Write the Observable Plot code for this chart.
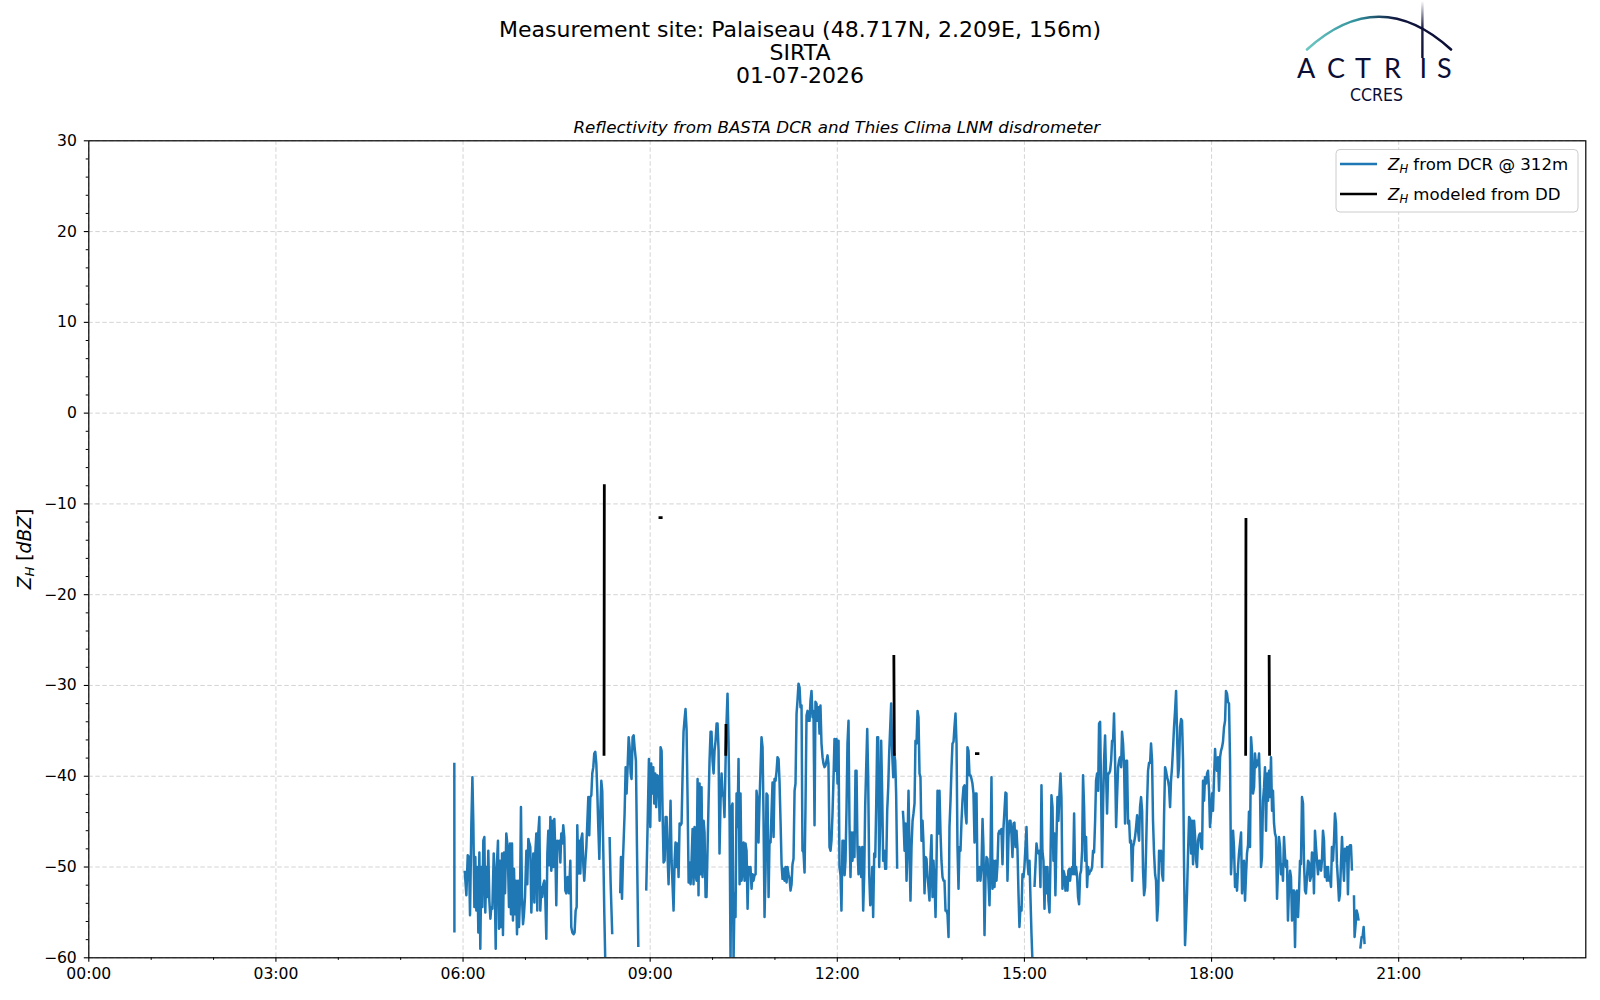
<!DOCTYPE html>
<html>
<head>
<meta charset="utf-8">
<script src="https://cdn.jsdelivr.net/npm/d3@7"></script>
<script src="https://cdn.jsdelivr.net/npm/@observablehq/plot@0.6"></script>
<style>
  html, body { margin: 0; padding: 0; background: #fff; overflow: hidden; }
  #wrap { position: relative; width: 1600px; height: 1000px; }
  #wrap > svg.overlay { position: absolute; left: 0; top: 0; pointer-events: none; }
  #chart { position: absolute; left: 0; top: 0; }
</style>
</head>
<body>
<div id="wrap"><div id="chart"></div></div>
<script>
// ---------- text ----------
const titleLines = ["Measurement site: Palaiseau (48.717N, 2.209E, 156m)", "SIRTA", "01-07-2026"];
const subtitle = "Reflectivity from BASTA DCR and Thies Clima LNM disdrometer";
const legendLabels = [" from DCR @ 312m", " modeled from DD"];

// ---------- ticks (minutes of day / dBZ) ----------
const xMajorTicks = [0, 180, 360, 540, 720, 900, 1080, 1260];
const xMinorTicks = [60, 120, 240, 300, 420, 480, 600, 660, 780, 840, 960, 1020, 1140, 1200, 1320, 1380];
const xTickLabels = ["00:00", "03:00", "06:00", "09:00", "12:00", "15:00", "18:00", "21:00"];
const yMajorTicks = [-60, -50, -40, -30, -20, -10, 0, 10, 20, 30];
const yMinorTicks = [-58,-56,-54,-52,-48,-46,-44,-42,-38,-36,-34,-32,-28,-26,-24,-22,-18,-16,-14,-12,-8,-6,-4,-2,2,4,6,8,12,14,16,18,22,24,26,28];

// ---------- data: [minute of day, Z_H dBZ], null = gap ----------
const dcrSeries = [
[351.6,-38.5],[351.7,-57.2],[356,null],
[361.6,-50.4],[363.2,-53.1],[364.5,-48.7],[365.7,-48.9],[366.7,-55.3],[368.0,-45.2],[369.0,-40.1],[369.9,-45.2],[370.9,-54.4],[371.8,-48.9],[372.8,-54.8],[373.8,-50.0],[374.7,-57.2],[375.7,-48.4],[376.6,-59.0],[377.6,-50.0],[378.6,-54.4],[379.5,-47.1],[380.5,-46.7],[381.4,-55.0],[382.4,-50.0],[383.4,-53.3],[384.3,-48.2],[385.3,-53.7],[386.3,-55.7],[387.2,-54.4],[388.2,-54.6],[389.5,-48.5],[390.4,-51.1],[391.4,-59.0],[392.3,-50.4],[393.6,-47.1],[394.6,-56.8],[395.5,-49.3],[396.5,-56.6],[397.5,-48.5],[398.4,-57.5],[399.4,-48.4],[400.4,-52.9],[401.6,-46.3],[402.9,-47.8],[404.2,-54.4],[405.2,-47.4],[406.1,-55.2],[407.1,-47.4],[408.0,-55.9],[409.0,-50.2],[410.0,-55.2],[410.9,-51.5],[411.9,-57.4],[412.9,-51.5],[413.8,-56.6],[414.8,-53.3],[415.7,-43.4],[416.7,-53.3],[417.7,-56.3],[418.6,-55.2],[419.6,-53.3],[420.9,-48.2],[421.8,-51.9],[422.8,-46.9],[423.8,-47.4],[424.7,-47.8],[425.7,-55.0],[426.6,-51.5],[427.6,-48.5],[428.6,-53.9],[429.5,-48.5],[430.5,-46.3],[431.4,-54.8],[432.4,-46.2],[433.4,-44.5],[434.3,-54.8],[435.3,-52.2],[436.3,-53.3],[437.2,-51.9],[438.2,-51.5],[439.1,-53.3],[440.1,-57.9],[441.1,-48.5],[442.0,-46.0],[443.0,-49.8],[444.0,-44.5],[444.9,-50.4],[445.9,-44.9],[446.8,-50.0],[447.8,-44.7],[448.8,-48.5],[449.7,-54.2],[450.7,-47.1],[451.6,-47.4],[452.6,-47.1],[453.6,-49.5],[454.5,-46.3],[455.5,-47.4],[456.4,-45.4],[457.4,-46.7],[458.4,-52.6],[459.3,-52.9],[460.6,-51.1],[461.9,-52.9],[463.2,-49.3],[464.1,-56.6],[465.1,-57.2],[466.4,-57.4],[467.3,-57.2],[468.3,-54.8],[469.3,-54.4],[469.9,-45.4],[470.9,-50.7],[471.8,-47.1],[472.8,-50.7],[473.7,-46.9],[474.7,-46.3],[475.7,-49.8],[476.6,-51.5],[477.6,-49.5],[478.6,-47.8],[479.5,-45.2],[480.5,-42.3],[481.4,-46.5],[482.4,-42.3],[483.4,-42.1],[484.3,-39.7],[485.3,-39.0],[486.2,-37.5],[487.2,-37.3],[488.2,-38.6],[489.1,-41.6],[490.1,-45.6],[491.1,-49.1],[492.0,-44.1],[493.0,-40.5],[493.9,-41.6],[494.9,-48.2],[495.9,-55.2],[496.8,-60.3],[498,null],
[501.0,-46.7],[501.9,-51.5],[502.9,-55.2],[503.5,-57.4],[506,null],
[511.2,-52.9],[511.9,-48.9],[512.9,-53.5],[513.8,-49.3],[515.4,-44.1],[516.4,-39.0],[517.3,-41.9],[518.3,-39.0],[519.3,-35.7],[520.2,-36.8],[521.2,-39.7],[522.1,-40.3],[523.1,-35.7],[524.1,-35.5],[525.0,-36.8],[526.3,-38.3],[527.3,-47.8],[528.6,-58.8],[532,null],
[536.2,-52.6],[537.5,-45.6],[538.8,-38.1],[540.1,-45.6],[541.0,-38.6],[542.0,-41.9],[543.0,-39.0],[543.9,-43.0],[544.9,-39.7],[545.8,-43.4],[546.8,-39.9],[548.1,-40.1],[549.1,-44.9],[550.0,-36.8],[551.0,-37.2],[552.0,-44.5],[552.9,-49.5],[553.9,-49.3],[554.8,-44.5],[555.8,-44.5],[556.7,-48.6],[557.7,-51.9],[558.7,-47.4],[559.6,-42.7],[560.6,-49.3],[561.6,-52.2],[562.5,-54.8],[563.5,-49.3],[564.4,-47.3],[565.4,-50.0],[566.4,-47.4],[567.3,-51.1],[568.3,-45.2],[569.2,-45.4],[570.2,-45.2],[571.2,-39.7],[572.1,-35.1],[573.1,-33.7],[574.0,-32.6],[575.0,-34.8],[576.0,-42.7],[577.0,-51.7],[577.9,-49.5],[578.9,-51.9],[579.8,-49.3],[580.8,-45.8],[581.7,-51.9],[582.7,-45.6],[583.7,-50.8],[584.6,-51.5],[585.6,-40.3],[586.5,-53.1],[587.5,-40.8],[588.5,-50.8],[589.4,-41.2],[590.4,-51.1],[591.4,-44.9],[592.3,-46.2],[593.3,-53.3],[594.2,-53.3],[595.2,-48.0],[596.2,-42.7],[597.1,-38.3],[598.1,-35.1],[599.0,-35.1],[600.0,-38.3],[601.0,-39.7],[601.9,-37.2],[602.9,-36.1],[603.9,-34.2],[604.8,-34.2],[605.8,-37.2],[606.7,-48.5],[607.7,-42.7],[608.7,-39.7],[609.6,-41.9],[610.6,-42.3],[611.5,-44.5],[612.5,-38.6],[613.5,-33.9],[614.4,-30.9],[615.4,-36.2],[616.4,-44.9],[617.3,-60.3],[618.3,-43.4],[619.2,-43.0],[620.2,-60.3],[621.2,-52.9],[622.1,-55.5],[623.1,-41.9],[624.0,-45.6],[625.0,-38.1],[626.0,-51.9],[626.9,-41.9],[627.9,-51.5],[628.9,-50.4],[629.8,-47.3],[630.8,-51.5],[631.7,-47.4],[632.7,-48.2],[633.7,-54.6],[634.6,-50.0],[635.6,-50.8],[636.5,-50.0],[637.5,-52.4],[638.5,-50.8],[639.4,-51.5],[640.4,-50.9],[641.4,-50.8],[642.3,-41.6],[643.3,-42.7],[644.2,-47.3],[645.2,-42.7],[646.2,-39.0],[647.1,-35.7],[648.1,-36.8],[649.0,-44.1],[650.0,-55.5],[651.0,-50.4],[651.9,-41.9],[652.9,-42.1],[653.9,-53.3],[654.8,-47.1],[655.8,-47.3],[656.7,-44.1],[657.7,-40.7],[658.7,-46.7],[659.6,-40.3],[660.6,-40.5],[661.6,-39.4],[662.5,-37.9],[663.5,-38.1],[664.4,-40.5],[665.4,-44.9],[666.4,-49.7],[667.3,-51.3],[668.3,-50.2],[669.2,-51.5],[670.2,-50.0],[671.2,-51.7],[672.1,-50.0],[673.1,-50.8],[674.1,-51.3],[675.0,-52.6],[676.0,-51.9],[676.9,-49.7],[677.9,-49.1],[678.9,-41.6],[679.8,-40.8],[680.8,-33.1],[681.7,-31.7],[682.7,-29.8],[683.7,-30.2],[684.6,-32.4],[685.6,-32.2],[686.5,-48.2],[687.5,-48.4],[688.5,-50.6],[689.4,-43.4],[690.4,-33.3],[691.4,-32.8],[692.3,-33.9],[693.3,-33.9],[694.2,-31.7],[695.2,-30.6],[696.2,-33.5],[697.1,-32.8],[698.1,-45.4],[699.0,-31.8],[700.0,-32.0],[701.0,-33.9],[701.9,-32.4],[702.9,-35.3],[703.8,-32.2],[704.8,-36.4],[705.8,-37.9],[706.7,-38.6],[707.7,-39.0],[708.7,-38.8],[709.6,-38.3],[710.6,-37.7],[711.5,-38.6],[712.5,-47.8],[713.5,-48.2],[714.4,-47.1],[715.4,-44.1],[716.4,-40.1],[717.3,-35.9],[718.3,-39.4],[719.2,-35.9],[720.2,-40.8],[721.2,-36.1],[722.1,-50.0],[723.1,-50.9],[724.0,-54.8],[725.0,-47.1],[726.0,-47.1],[727.0,-50.9],[727.9,-49.3],[728.9,-43.4],[729.8,-36.4],[730.8,-33.9],[731.7,-45.2],[732.7,-51.1],[733.7,-46.2],[734.6,-49.3],[735.6,-46.2],[736.5,-48.9],[737.5,-39.4],[738.5,-39.4],[739.4,-47.8],[740.4,-50.8],[741.4,-47.8],
[742.0,-48.5],[743.0,-51.1],[744.0,-47.8],[744.9,-54.8],[745.9,-50.8],[746.8,-43.4],[747.8,-39.0],[748.8,-34.8],[749.7,-40.1],[750.7,-50.8],[751.7,-54.2],[752.6,-53.7],[753.6,-50.0],[754.5,-55.5],[755.5,-48.5],[756.5,-48.9],[757.4,-43.4],[758.4,-35.7],[759.3,-35.7],[760.3,-50.0],[761.3,-44.9],[762.2,-36.1],[763.2,-42.1],[764.1,-49.3],[765.1,-48.2],[766.1,-50.2],[767.0,-50.2],[768.0,-43.8],[769.0,-41.2],[769.9,-37.5],[770.9,-34.6],[771.8,-32.0],[772.8,-37.5],[773.8,-40.1],[774.7,-37.5],[775.7,-38.3],[776.6,-41.9],[777.6,-50.2],[780,null],
[783.1,-43.8],[783.7,-44.9],[784.7,-48.2],[785.6,-45.2],[786.6,-51.5],[787.5,-47.8],[788.5,-41.6],[789.5,-48.5],[790.4,-53.7],[791.4,-47.8],[792.4,-44.9],[793.3,-44.1],[794.3,-43.0],[795.2,-36.1],[796.2,-36.4],[797.2,-32.8],[798.1,-33.5],[799.1,-39.7],[800.0,-40.1],[801.0,-47.1],[802.0,-44.9],[802.9,-47.3],[803.9,-52.9],[804.9,-48.9],[805.8,-49.1],[806.8,-51.1],[807.7,-52.2],[808.7,-53.7],[809.7,-48.9],[810.6,-46.5],[811.6,-53.3],[812.5,-49.3],[813.5,-51.5],[814.5,-55.5],[815.4,-50.0],[816.4,-41.6],[817.4,-46.3],[818.3,-41.6],[819.3,-46.3],[820.2,-49.3],[821.2,-51.1],[822.2,-51.5],[823.1,-51.5],[824.1,-54.8],[825.0,-54.8],[826.0,-55.2],[827.0,-57.7],[827.9,-45.6],[828.9,-42.7],[829.9,-39.0],[830.8,-36.4],[831.8,-36.2],[832.7,-34.6],[833.7,-33.1],[834.7,-36.4],[835.6,-47.8],[836.6,-52.4],[837.5,-47.8],[838.5,-48.2],[839.5,-44.9],[840.4,-42.7],[841.4,-41.2],[842.4,-41.0],[843.3,-44.1],[844.3,-45.2],[845.2,-36.8],[846.2,-37.2],[847.2,-39.9],[848.1,-39.9],[849.1,-40.3],[850.0,-40.8],[851.0,-41.9],[852.0,-47.3],[852.9,-41.9],[853.9,-41.9],[854.9,-51.5],[855.8,-51.1],[856.8,-50.0],[857.7,-51.5],[858.7,-50.0],[859.7,-44.7],[860.6,-47.8],[861.6,-57.5],[862.5,-51.5],[863.5,-48.9],[864.5,-49.1],[865.4,-51.5],[866.4,-54.2],[867.3,-49.3],[868.3,-40.1],[869.3,-52.4],[870.2,-49.3],[871.2,-52.2],[872.2,-49.3],[873.1,-51.5],[874.1,-49.7],[875.0,-46.3],[876.0,-46.0],[877.0,-46.3],[877.9,-45.8],[878.9,-49.7],[879.8,-45.8],[880.8,-43.8],[881.8,-41.8],[882.7,-41.9],[883.7,-51.5],[884.7,-46.7],[885.6,-44.9],[886.6,-44.9],[887.5,-46.3],[888.5,-48.9],[889.5,-45.2],[890.4,-45.1],[891.4,-47.8],[892.4,-46.0],[893.3,-48.0],[894.3,-52.9],[895.2,-56.6],[896.2,-54.4],[897.2,-54.8],[898.1,-50.8],[899.1,-51.1],[900.0,-50.0],[901.0,-47.8],[902.0,-45.6],[902.9,-49.3],[903.9,-50.8],[904.9,-49.3],[905.8,-53.3],[906.8,-57.4],[907.7,-60.3],[908.8,null],
[909.7,-52.2],[911.6,-47.4],[912.5,-48.2],[913.5,-48.5],[914.5,-48.2],[915.4,-52.2],[916.4,-41.0],[917.3,-48.2],[918.3,-49.3],[919.3,-54.6],[920.2,-50.0],[921.2,-52.9],[922.2,-50.0],[923.1,-53.7],[924.1,-55.0],[925.0,-49.7],[926.0,-42.1],[927.0,-43.4],[927.9,-49.3],[928.9,-46.3],[929.8,-53.1],[930.8,-47.1],[931.8,-42.3],[932.7,-44.9],[933.7,-41.9],[934.7,-39.7],[935.6,-42.3],[936.6,-52.4],[937.5,-50.4],[938.5,-50.8],[939.5,-52.6],[940.4,-51.1],[941.4,-52.6],[942.3,-50.4],[943.3,-50.2],
[943.9,-51.5],[944.9,-50.4],[945.9,-50.0],[946.8,-50.8],[947.8,-44.1],[948.7,-50.8],[949.7,-50.0],[950.7,-51.1],[951.6,-53.3],[952.6,-54.1],[953.6,-50.8],[954.5,-50.4],[955.5,-48.2],[956.4,-39.9],[957.4,-43.4],[958.4,-49.3],[959.3,-46.7],[960.3,-52.2],[961.2,-50.0],[962.2,-50.8],[963.2,-50.4],[964.1,-50.4],[965.1,-50.0],[966.0,-48.2],[967.0,-48.4],[968.0,-44.9],[968.9,-40.5],[969.9,-39.7],[970.9,-41.6],[971.8,-34.2],[972.8,-34.0],[973.7,-41.2],[974.7,-50.0],[975.7,-43.0],[976.6,-38.3],[977.6,-35.5],[978.5,-39.6],[979.5,-44.1],[980.5,-39.7],[981.4,-39.7],[982.4,-39.4],[983.4,-38.3],[984.3,-36.1],[985.3,-36.1],[986.2,-33.1],[987.2,-38.3],[988.2,-45.6],[989.1,-42.3],[990.1,-39.0],[991.0,-38.3],[992.0,-37.9],[993.0,-39.0],[993.9,-35.1],[994.9,-36.4],[995.9,-39.0],[996.8,-45.2],[997.8,-38.3],[998.7,-38.3],[999.7,-45.2],[1000.7,-44.9],[1001.6,-47.3],[1002.6,-47.1],[1003.6,-51.5],[1004.5,-47.8],[1005.5,-47.3],[1006.4,-46.7],[1007.4,-45.6],[1008.4,-44.3],[1009.3,-46.0],[1010.3,-47.1],[1011.2,-43.4],[1012.2,-42.3],[1013.2,-43.8],[1014.1,-50.4],[1015.1,-53.1],[1016.1,-52.2],[1017.0,-48.2],[1018.0,-43.0],[1018.9,-39.4],[1019.9,-38.5],[1020.9,-38.5],[1021.8,-36.4],[1022.8,-38.3],[1023.7,-44.9],[1024.7,-48.5],[1025.7,-50.8],[1026.6,-51.5],[1027.6,-55.9],[1028.6,-54.1],[1029.5,-48.2],[1030.5,-49.3],[1031.4,-48.2],[1032.4,-50.8],[1033.4,-51.5],[1034.3,-44.5],[1035.3,-39.0],[1036.2,-39.4],[1037.2,-40.1],[1038.2,-40.5],[1039.1,-41.2],[1040.1,-43.4],[1041.0,-40.5],[1042.0,-39.0],[1043.0,-36.8],[1043.9,-34.6],[1044.9,-32.8],[1045.9,-30.6],[1046.8,-35.3],[1047.8,-40.1],[1048.7,-39.0],[1049.7,-34.6],[1050.7,-33.7],[1051.6,-33.9],[1052.6,-38.3],[1053.5,-49.3],[1054.5,-58.6],[1055.5,-55.9],[1056.4,-52.9],[1057.4,-48.4],[1058.4,-44.5],[1059.3,-44.7],[1060.3,-48.5],[1061.2,-44.9],[1062.2,-49.7],[1063.2,-44.9],[1064.1,-46.5],[1065.1,-49.3],[1066.0,-50.0],[1067.0,-47.1],[1068.0,-46.5],[1068.9,-46.3],[1069.9,-47.8],[1070.9,-48.0],[1071.8,-40.5],[1072.8,-42.7],[1073.7,-40.1],[1074.7,-40.8],[1075.7,-39.7],[1076.6,-39.4],[1077.6,-41.6],[1078.5,-45.6],[1079.5,-44.1],[1080.5,-41.9],[1081.4,-43.8],[1082.4,-40.1],[1083.4,-37.0],[1084.3,-39.0],[1085.3,-39.4],[1086.2,-37.9],[1087.2,-41.6],[1088.2,-37.9],[1089.1,-37.2],[1090.1,-36.8],[1091.0,-36.2],[1092.0,-34.6],[1093.0,-33.9],[1093.9,-30.6],[1094.9,-30.9],[1095.8,-31.8],[1096.8,-32.0],[1097.8,-38.3],[1098.7,-50.8],[1099.7,-48.2],[1100.7,-46.0],[1101.6,-47.8],[1102.6,-52.2],[1103.5,-50.8],[1104.5,-52.6],[1105.5,-50.0],[1106.4,-48.5],[1107.4,-47.4],[1108.4,-46.2],[1109.3,-52.9],[1110.3,-50.8],[1111.2,-49.3],[1112.2,-53.7],[1113.2,-50.8],[1114.1,-48.5],[1115.1,-47.6],[1116.0,-43.9],[1117.0,-47.8],[1118.0,-35.7],[1118.9,-37.2],[1119.9,-41.9],[1120.9,-41.2],[1121.8,-37.5],[1122.8,-39.0],[1123.7,-38.3],[1124.7,-38.8],[1125.7,-37.5],[1126.6,-41.2],[1127.6,-50.0],[1128.5,-48.9],[1129.5,-42.7],[1130.5,-41.2],[1131.4,-39.0],[1132.4,-46.0],[1133.4,-39.7],[1134.3,-42.7],[1135.3,-39.4],[1136.2,-42.3],[1137.2,-37.9],[1138.2,-43.8],[1139.1,-41.6],[1140.1,-45.2],[1141.0,-46.3],[1142.0,-46.7],[1143.0,-53.5],[1143.9,-50.4],[1144.9,-46.7],[1145.9,-47.8],[1146.8,-50.8],[1147.8,-49.7],[1148.7,-51.5],[1149.7,-46.7],[1150.7,-48.9],[1151.6,-50.0],[1152.6,-49.3],[1153.5,-55.9],[1154.5,-52.2],[1155.5,-50.4],[1156.4,-51.1],[1157.4,-55.9],[1158.4,-52.6],[1159.3,-52.6],[1160.3,-58.8],[1161.2,-52.9],[1162.2,-52.6],[1163.2,-55.5],[1164.1,-52.9],[1165.1,-49.3],[1166.0,-49.7],[1167.0,-42.3],[1168.0,-43.0],[1168.9,-49.3],[1169.9,-52.6],[1170.8,-52.9],[1171.8,-51.1],[1172.8,-49.3],[1173.7,-49.5],[1174.7,-51.5],[1175.7,-51.1],[1176.6,-48.4],[1177.6,-48.5],[1178.5,-52.9],[1179.5,-46.0],[1180.5,-47.8],[1181.4,-49.3],[1182.4,-50.8],[1183.4,-49.3],
[1184.3,-49.3],[1185.3,-50.4],[1186.2,-49.3],[1187.2,-46.0],[1188.2,-47.1],[1189.1,-51.1],[1190.1,-50.0],[1191.0,-51.5],[1192.0,-50.0],[1193.0,-51.5],[1193.9,-51.1],[1194.9,-52.2],[1195.8,-47.8],[1196.8,-49.3],[1197.8,-47.1],[1198.7,-44.1],[1199.7,-45.2],[1200.6,-49.6],[1201.6,-51.5],[1202.6,-53.7],[1203.5,-53.0],[1204.5,-49.6],[1205.5,-46.7],[1206.4,-49.3],[1207.4,-51.5],[1208.3,-48.0],[1209.3,-49.3],[1210.3,-47.8],[1211.2,-53.0],[1212.2,-47.8],[1213.2,-47.6],[1214.1,-47.6],[1215.1,-50.4],[1216,null],
[1217.0,-53.1],[1217.6,-57.7],[1218.6,-56.3],[1219.6,-54.8],[1220.5,-55.2],[1221.5,-55.9],[1222.3,null],
[1223.1,-59.0],[1224.4,-57.7],[1225.3,-57.7],[1226.3,-56.6],[1227.2,-58.5]
];

const ddSeries = [
[495.6,-37.6],[495.9,-8.0],[496.5,null],
[549.4,-11.5],[550.6,-11.5],[551.5,null],
[612.7,-37.6],[612.9,-34.4],[613.5,null],
[774.4,-26.8],[774.9,-37.6],[775.5,null],
[853.8,-37.5],[855.3,-37.5],[856,null],
[1112.8,-37.6],[1113.1,-11.7],[1113.6,null],
[1135.4,-26.8],[1135.8,-37.6]
];

// ---------- colours ----------
const dcrColor = "#1f77b4";
const ddColor = "#000000";

// ---------- chart ----------
const minus = d => d < 0 ? "\u2212" + Math.abs(d) : String(d);
const gridStyle = {stroke: "#b0b0b0", strokeOpacity: 0.55, strokeWidth: 1, strokeDasharray: "4.5,2.5"};

const chart = Plot.plot({
  width: 1600,
  height: 1000,
  marginLeft: 88.3,
  marginRight: 14.7,
  marginTop: 140.3,
  marginBottom: 42.7,
  style: {fontFamily: "DejaVu Sans", fontSize: "15.6px", color: "black", background: "white", overflow: "visible"},
  x: {domain: [0, 1440], label: null},
  y: {domain: [-60, 30], label: null},
  marks: [
    Plot.gridX(xMajorTicks, gridStyle),
    Plot.gridY(yMajorTicks, gridStyle),
    Plot.line(dcrSeries, {x: d => d[0], y: d => d[1], stroke: dcrColor, strokeWidth: 2.5, clip: true, strokeLinejoin: "round", strokeLinecap: "butt"}),
    Plot.line(ddSeries, {x: d => d[0], y: d => d[1], stroke: ddColor, strokeWidth: 2.8, clip: true, strokeLinecap: "square"}),
    Plot.frame({stroke: "black", strokeWidth: 1.2}),
    Plot.axisX(xMajorTicks, {tickSize: 4.5, tickPadding: 6, tickFormat: d => xTickLabels[xMajorTicks.indexOf(d)], label: null, strokeWidth: 1.1}),
    Plot.axisX(xMinorTicks, {tickSize: 2.6, tickFormat: () => "", label: null, strokeWidth: 1}),
    Plot.axisY(yMajorTicks, {tickSize: 4.5, tickPadding: 7.5, tickFormat: minus, label: null, strokeWidth: 1.1}),
    Plot.axisY(yMinorTicks, {tickSize: 2.6, tickFormat: () => "", label: null, strokeWidth: 1})
  ]
});
document.getElementById("chart").appendChild(chart);

// ---------- overlay: titles, y label, legend, logo ----------
const NS = "http://www.w3.org/2000/svg";
const ov = d3.select("#wrap").append("svg")
  .attr("class", "overlay").attr("xmlns", NS)
  .attr("width", 1600).attr("height", 1000)
  .style("font-family", "DejaVu Sans");

const defs = ov.append("defs");
const g1 = defs.append("linearGradient").attr("id", "arcGrad").attr("x1", "0").attr("x2", "1").attr("y1", "0").attr("y2", "0");
g1.append("stop").attr("offset", "0").attr("stop-color", "#6cc7c2");
g1.append("stop").attr("offset", "0.35").attr("stop-color", "#2f8f9c");
g1.append("stop").attr("offset", "0.62").attr("stop-color", "#10163d");
g1.append("stop").attr("offset", "1").attr("stop-color", "#0b0e35");
const g2 = defs.append("linearGradient").attr("id", "vGrad").attr("x1", "0").attr("x2", "0").attr("y1", "0").attr("y2", "1");
g2.append("stop").attr("offset", "0").attr("stop-color", "#0b0e35").attr("stop-opacity", 0);
g2.append("stop").attr("offset", "0.45").attr("stop-color", "#0b0e35").attr("stop-opacity", 0.9);
g2.append("stop").attr("offset", "1").attr("stop-color", "#0b0e35").attr("stop-opacity", 1);

// titles
titleLines.forEach((t, i) => {
  ov.append("text").attr("x", 800).attr("y", 36.5 + i * 23)
    .attr("text-anchor", "middle").attr("font-size", 22).attr("fill", "#000").text(t);
});
ov.append("text").attr("x", 836.8).attr("y", 133)
  .attr("text-anchor", "middle").attr("font-size", 16.7).attr("font-style", "italic").attr("fill", "#000").text(subtitle);

// y label
const yl = ov.append("text").attr("transform", "translate(30.5,549) rotate(-90)")
  .attr("text-anchor", "middle").attr("font-size", 18.7).attr("fill", "#000");
yl.append("tspan").attr("font-style", "italic").text("Z");
yl.append("tspan").attr("font-style", "italic").attr("font-size", 13.1).attr("dy", 3.5).text("H");
yl.append("tspan").attr("dy", -3.5).text(" [");
yl.append("tspan").attr("font-style", "italic").text("dBZ");
yl.append("tspan").text("]");

// legend
ov.append("rect").attr("x", 1336).attr("y", 149.5).attr("width", 242).attr("height", 62.5)
  .attr("rx", 4).attr("fill", "white").attr("fill-opacity", 0.85).attr("stroke", "#cccccc").attr("stroke-width", 1);
[dcrColor, ddColor].forEach((c, i) => {
  const yy = 164 + i * 30;
  ov.append("line").attr("x1", 1340).attr("x2", 1377).attr("y1", yy).attr("y2", yy)
    .attr("stroke", c).attr("stroke-width", 2.5);
  const tx = ov.append("text").attr("x", 1388).attr("y", yy + 5.9).attr("font-size", 16.6).attr("fill", "#000");
  tx.append("tspan").attr("font-style", "italic").text("Z");
  tx.append("tspan").attr("font-style", "italic").attr("font-size", 11.6).attr("dy", 3).text("H");
  tx.append("tspan").attr("dy", -3).text(legendLabels[i]);
});

// logo
ov.append("path").attr("d", "M1307,49.5 Q1379,-16 1451,49.5")
  .attr("fill", "none").attr("stroke", "url(#arcGrad)").attr("stroke-width", 2.6).attr("stroke-linecap", "round");
ov.append("rect").attr("x", 1421.2).attr("y", 1).attr("width", 2.4).attr("height", 57).attr("fill", "url(#vGrad)");
ov.append("text").attr("x", "1297 1327 1355 1384 1419.6 1437").attr("y", 78)
  .attr("font-family", "Lato").attr("font-size", 27).attr("fill", "#0b0e35").text("ACTRIS");
ov.append("text").attr("x", 1350).attr("y", 100.5).attr("font-family", "DejaVu Sans").attr("font-size", 17.5)
  .attr("fill", "#0b0e35").attr("textLength", 53).attr("lengthAdjust", "spacingAndGlyphs").text("CCRES");
</script>
</body>
</html>
